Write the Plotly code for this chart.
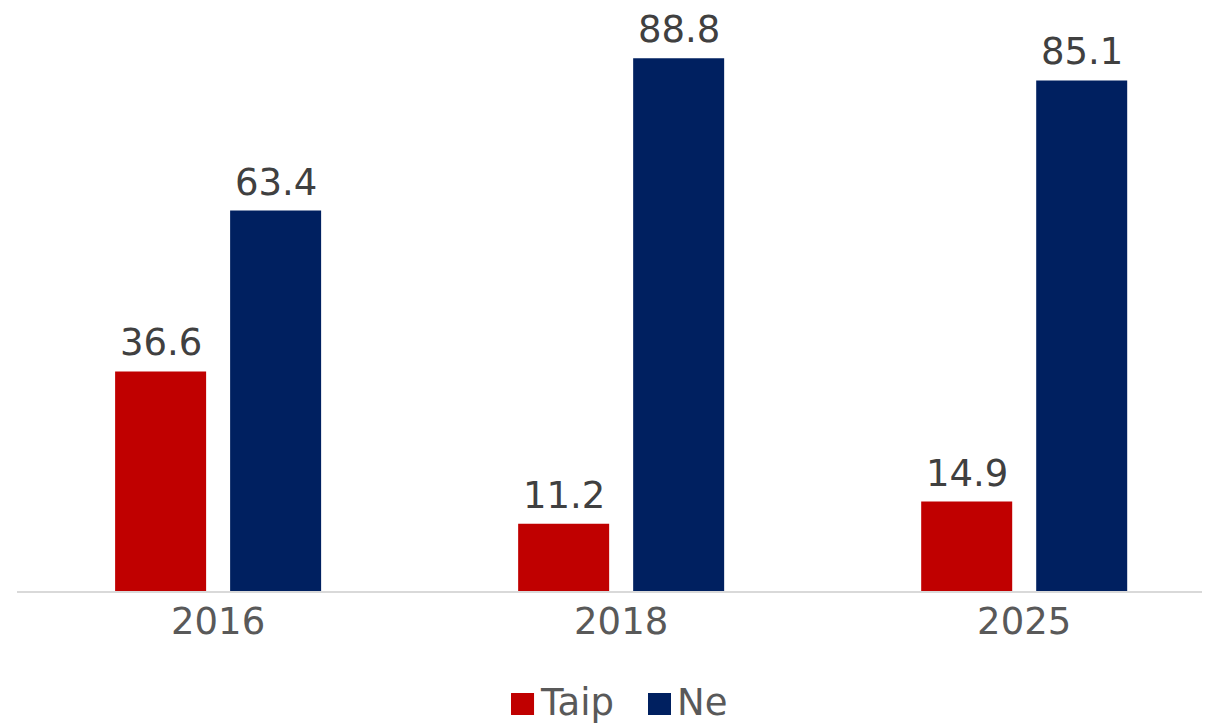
import plotly.graph_objects as go

# survey answers by year (percent)
years = ["2016", "2018", "2025"]
taip = [36.6, 11.2, 14.9]
ne = [63.4, 88.8, 85.1]
series_names = ["Taip", "Ne"]

red = "#C00000"
navy = "#002060"
font_family = "DejaVu Sans"

fig = go.Figure()

# bars, value labels go on as annotations so the gap above the bar matches
label_shift = [-57.5, 57.5]  # px from the group centre to each bar centre
for name, values, color, dx in zip(series_names, [taip, ne], [red, navy], label_shift):
    fig.add_trace(go.Bar(
        x=years, y=values, name=name,
        marker=dict(color=color, line=dict(width=0)),
        showlegend=False,
    ))
    # category index, a "2016" string would be read as a number
    for i, v in enumerate(values):
        fig.add_annotation(x=i, y=v, text=f"{v:.1f}", showarrow=False,
                           xanchor="center", yanchor="bottom", xshift=dx, yshift=5,
                           font=dict(family=font_family, size=37, color="#404040"))

# hand made legend, plotly caps the legend square size
legend_x = [0.4141, 0.5289]  # left edge of each square (paper)
for name, color, x0 in zip(series_names, [red, navy], legend_x):
    fig.add_shape(type="rect", xref="paper", yref="paper",
                  x0=x0, x1=x0 + 0.0193, y0=-0.2134, y1=-0.1756,
                  fillcolor=color, line=dict(width=0))
    fig.add_annotation(text=name, xref="paper", yref="paper",
                       x=x0 + 0.0235, y=-0.1927, xanchor="left", yanchor="middle",
                       showarrow=False, borderpad=0,
                       font=dict(family=font_family, size=37, color="#595959"))

# body has an 8px margin in the page, so the figure is 8px smaller
fig.update_layout(
    width=1202, height=716,
    margin=dict(l=9, r=0, t=2, b=133),
    paper_bgcolor="white", plot_bgcolor="white",
    barmode="group", bargap=0.4293, bargroupgap=0.2087,
    font=dict(family=font_family, color="#595959"),
    showlegend=False,
)
fig.update_xaxes(
    type="category", range=[-0.499, 2.461],
    showline=True, linecolor="#D9D9D9", linewidth=2,
    ticks="", showgrid=False, ticklabelstandoff=-3,
    tickfont=dict(family=font_family, size=37, color="#595959"),
)
fig.update_yaxes(
    range=[0, 96.83], visible=False, showgrid=False, zeroline=False,
)

fig.write_html("out.html")
